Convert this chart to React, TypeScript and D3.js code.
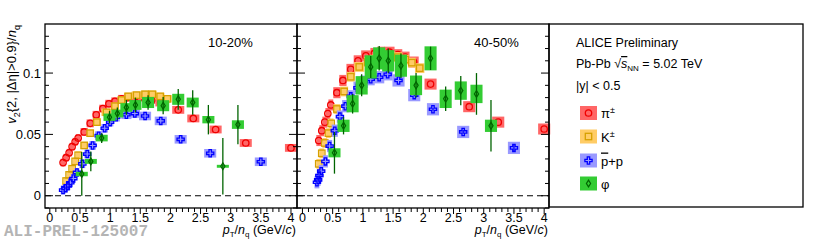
import React, { useEffect, useRef } from "react";
import * as d3 from "d3";

// ---- 10-20% ----
const piX_1020 = [0.22, 0.27, 0.32, 0.37, 0.42, 0.47, 0.57, 0.67, 0.77, 0.88, 0.98, 1.08, 1.19, 1.29, 1.39, 1.49, 1.59, 1.69, 1.84, 2.13, 2.38, 2.75, 3.25, 4.0];
const piV_1020 = [0.027, 0.031, 0.035, 0.04, 0.044, 0.047, 0.052, 0.059, 0.066, 0.071, 0.075, 0.077, 0.079, 0.08, 0.08, 0.08, 0.079, 0.078, 0.076, 0.07, 0.063, 0.054, 0.043, 0.039];
const kX_1020 = [0.27, 0.32, 0.37, 0.42, 0.47, 0.57, 0.67, 0.78, 0.94, 1.08, 1.19, 1.3, 1.44, 1.58, 1.7, 1.83, 1.95];
const kV_1020 = [0.012, 0.017, 0.022, 0.028, 0.033, 0.041, 0.051, 0.06, 0.068, 0.073, 0.078, 0.081, 0.082, 0.0827, 0.0827, 0.081, 0.079];
const pX_1020 = [0.22, 0.26, 0.3, 0.34, 0.39, 0.45, 0.54, 0.62, 0.71, 0.81, 0.91, 1.0, 1.1, 1.27, 1.41, 1.58, 1.84, 2.17, 2.66, 3.5];
const pV_1020 = [0.0046, 0.006, 0.008, 0.0106, 0.014, 0.019, 0.026, 0.034, 0.041, 0.049, 0.055, 0.06, 0.064, 0.066, 0.067, 0.065, 0.061, 0.046, 0.0346, 0.0277];
const phiX_1020 = [0.53, 0.68, 0.86, 0.99, 1.12, 1.27, 1.42, 1.63, 1.88, 2.13, 2.37, 2.63, 2.87, 3.12];
const phiV_1020 = [0.0177, 0.028, 0.047, 0.064, 0.067, 0.072, 0.074, 0.076, 0.0734, 0.0786, 0.076, 0.062, 0.024, 0.058];
const phiStat_1020 = [0.018, 0.008, 0.004, 0.005, 0.005, 0.006, 0.006, 0.006, 0.007, 0.0085, 0.01, 0.012, 0.023, 0.016];
const phiSys_1020 = [0.0018, 0.002, 0.0027, 0.003, 0.0032, 0.0035, 0.004, 0.0045, 0.0045, 0.0045, 0.004, 0.003, 0.0012, 0.0035];

// ---- 40-50% ----
const piX_4050 = [0.27, 0.32, 0.37, 0.42, 0.47, 0.57, 0.67, 0.8, 0.92, 1.05, 1.19, 1.3, 1.44, 1.58, 1.7, 1.84, 2.12, 2.76, 3.24, 4.0];
const piV_4050 = [0.045, 0.053, 0.06, 0.067, 0.074, 0.084, 0.094, 0.103, 0.11, 0.114, 0.116, 0.117, 0.117, 0.115, 0.113, 0.109, 0.091, 0.0726, 0.06, 0.0544];
const kX_4050 = [0.27, 0.32, 0.37, 0.43, 0.475, 0.57, 0.69, 0.8, 0.94, 1.08, 1.19, 1.3, 1.44, 1.58, 1.7, 1.81, 1.94];
const kV_4050 = [0.026, 0.0346, 0.043, 0.051, 0.059, 0.0707, 0.085, 0.097, 0.105, 0.109, 0.111, 0.113, 0.114, 0.113, 0.111, 0.1085, 0.104];
const pX_4050 = [0.24, 0.26, 0.28, 0.31, 0.38, 0.45, 0.535, 0.62, 0.71, 0.8, 0.91, 1.02, 1.13, 1.27, 1.41, 1.59, 1.85, 2.16, 2.66, 3.5];
const pV_4050 = [0.011, 0.013, 0.0165, 0.02, 0.028, 0.0405, 0.053, 0.0645, 0.073, 0.081, 0.088, 0.093, 0.095, 0.0966, 0.099, 0.094, 0.082, 0.0705, 0.052, 0.039];
const pStat_4050 = [0, 0, 0, 0, 0, 0, 0, 0, 0, 0, 0, 0, 0, 0, 0, 0, 0.001, 0.001, 0.0015, 0.003];
const phiX_4050 = [0.53, 0.68, 0.83, 0.98, 1.13, 1.27, 1.42, 1.63, 1.88, 2.12, 2.37, 2.62, 2.88, 3.12];
const phiV_4050 = [0.035, 0.057, 0.075, 0.09, 0.105, 0.112, 0.11, 0.106, 0.09, 0.112, 0.079, 0.0857, 0.083, 0.057];
const phiStat_4050 = [0.017, 0.007, 0.008, 0.009, 0.009, 0.01, 0.01, 0.01, 0.01, 0.0095, 0.01, 0.012, 0.017, 0.021];
const phiSys_4050 = [0.0037, 0.005, 0.007, 0.0075, 0.0095, 0.009, 0.0087, 0.009, 0.008, 0.0098, 0.0075, 0.0075, 0.0075, 0.005];

// constant systematic uncertainty per species and centrality
const sys1020 = { pi: 0.0032, k: 0.003, p: 0.0035 };
const sys4050 = { pi: 0.0045, k: 0.004, p: 0.005 };

const centralities = ["10-20%", "40-50%"];
const xTicks = [0, 0.5, 1, 1.5, 2, 2.5, 3, 3.5, 4];
const yTicks = [0, 0.05, 0.1];
const legendLabels = ["π", "K", "p", "φ"];

const species = [
  { key: "pi", box: "#ff6666", line: "#f00000", marker: "circle" },
  { key: "k", box: "#ffcc66", line: "#d6a000", marker: "square" },
  { key: "p", box: "#9999ff", line: "#0000ff", marker: "cross" },
  { key: "phi", box: "#33cc33", line: "#006400", marker: "diamond" },
];

const FONT = "'Liberation Sans', Arial, Helvetica, sans-serif";

const crossPath = (s: number, a: number) =>
  `M${-a},${-s}H${a}V${-a}H${s}V${a}H${a}V${s}H${-a}V${a}H${-s}V${-a}H${-a}Z`;

const drawMarker = (g: any, type: string, color: string, cx: number, cy: number) => {
  if (type === "circle") {
    g.append("circle").attr("cx", cx).attr("cy", cy).attr("r", 3.2)
      .attr("fill", "none").attr("stroke", color).attr("stroke-width", 1.3);
  } else if (type === "square") {
    g.append("rect").attr("x", cx - 3.2).attr("y", cy - 3.2).attr("width", 6.4).attr("height", 6.4)
      .attr("fill", "none").attr("stroke", color).attr("stroke-width", 1.3);
  } else if (type === "cross") {
    g.append("path").attr("d", crossPath(3.6, 1.2)).attr("transform", `translate(${cx},${cy})`)
      .attr("fill", "none").attr("stroke", color).attr("stroke-width", 1.3);
  } else {
    g.append("path").attr("d", "M0,-3.4L2.1,0L0,3.4L-2.1,0Z").attr("transform", `translate(${cx},${cy})`)
      .attr("fill", "none").attr("stroke", color).attr("stroke-width", 1.2);
  }
};

const App = () => {
  const ref = useRef<SVGSVGElement | null>(null);

  useEffect(() => {
    const svg = d3.select(ref.current);
    svg.selectAll("*").remove();

    const top = 24;
    const bottom = 208;
    const panels = [
      { x0: 45, x1: 297, domain: [-0.08, 4.1] },
      { x0: 297, x1: 549, domain: [-0.09, 4.08] },
    ];
    const y = d3.scaleLinear().domain([-0.01, 0.14]).range([bottom, top]);

    const data = [
      {
        pi: { x: piX_1020, v: piV_1020, sys: piX_1020.map(() => sys1020.pi) },
        k: { x: kX_1020, v: kV_1020, sys: kX_1020.map(() => sys1020.k) },
        p: { x: pX_1020, v: pV_1020, sys: pX_1020.map(() => sys1020.p) },
        phi: { x: phiX_1020, v: phiV_1020, sys: phiSys_1020, stat: phiStat_1020 },
      },
      {
        pi: { x: piX_4050, v: piV_4050, sys: piX_4050.map(() => sys4050.pi) },
        k: { x: kX_4050, v: kV_4050, sys: kX_4050.map(() => sys4050.k) },
        p: { x: pX_4050, v: pV_4050, sys: pX_4050.map(() => sys4050.p), stat: pStat_4050 },
        phi: { x: phiX_4050, v: phiV_4050, sys: phiSys_4050, stat: phiStat_4050 },
      },
    ];

    panels.forEach((pan, pi) => {
      const x = d3.scaleLinear().domain(pan.domain).range([pan.x0, pan.x1]);
      const g = svg.append("g");

      // zero line
      g.append("line").attr("x1", pan.x0).attr("x2", pan.x1).attr("y1", y(0)).attr("y2", y(0))
        .attr("stroke", "#000").attr("stroke-width", 1.2).attr("stroke-dasharray", "6,4");

      species.forEach((sp) => {
        const s = (data[pi] as any)[sp.key];
        const n = s.x.length;
        // systematic boxes, half-width from the bin spacing
        s.x.forEach((xv: number, i: number) => {
          const gapL = i > 0 ? xv - s.x[i - 1] : Infinity;
          const gapR = i < n - 1 ? s.x[i + 1] - xv : Infinity;
          let hw = Math.min(gapL, gapR) * 0.6;
          if (sp.key === "phi") hw = 0.1;
          hw = Math.max(0.04, Math.min(0.1, hw));
          const v = s.v[i];
          const e = s.sys[i];
          g.append("rect")
            .attr("x", x(xv - hw)).attr("width", x(xv + hw) - x(xv - hw))
            .attr("y", y(v + e)).attr("height", y(v - e) - y(v + e))
            .attr("fill", sp.box);
        });
        // stat errors
        if (s.stat) {
          s.x.forEach((xv: number, i: number) => {
            if (!s.stat[i]) return;
            g.append("line").attr("x1", x(xv)).attr("x2", x(xv))
              .attr("y1", y(Math.max(0, s.v[i] - s.stat[i]))).attr("y2", y(s.v[i] + s.stat[i]))
              .attr("stroke", sp.line).attr("stroke-width", 1.3);
          });
        }
        s.x.forEach((xv: number, i: number) => drawMarker(g, sp.marker, sp.line, x(xv), y(s.v[i])));
      });

      // ticks
      const minorX = d3.range(0, 41).map((d) => d / 10);
      minorX.forEach((t) => {
        const major = Math.abs(t * 2 - Math.round(t * 2)) < 1e-6;
        g.append("line").attr("x1", x(t)).attr("x2", x(t))
          .attr("y1", bottom).attr("y2", bottom + (major ? 6 : 4))
          .attr("stroke", "#000").attr("stroke-width", 1);
      });
      xTicks.forEach((t) => {
        g.append("text").attr("x", x(t)).attr("y", 222)
          .attr("text-anchor", "middle").attr("font-family", FONT).attr("font-size", 12.5)
          .text(String(t));
      });
      const minorY = d3.range(-1, 14).map((d) => d / 100);
      minorY.forEach((t) => {
        const major = Math.abs(t * 20 - Math.round(t * 20)) < 1e-6;
        const len = major ? 8 : 4;
        g.append("line").attr("x1", pan.x0).attr("x2", pan.x0 + len).attr("y1", y(t)).attr("y2", y(t))
          .attr("stroke", "#000").attr("stroke-width", 1);
        g.append("line").attr("x1", pan.x1).attr("x2", pan.x1 - len).attr("y1", y(t)).attr("y2", y(t))
          .attr("stroke", "#000").attr("stroke-width", 1);
      });

      // frame
      g.append("rect").attr("x", pan.x0).attr("y", top).attr("width", pan.x1 - pan.x0)
        .attr("height", bottom - top).attr("fill", "none").attr("stroke", "#000").attr("stroke-width", 1.3);

      g.append("text").attr("x", pi === 0 ? 208 : 474).attr("y", 47)
        .attr("font-family", FONT).attr("font-size", 13).text(centralities[pi]);

      // x title
      const xt = g.append("text").attr("x", pan.x1 - 1).attr("y", 234)
        .attr("text-anchor", "end").attr("font-family", FONT).attr("font-size", 12.5);
      xt.append("tspan").attr("font-style", "italic").text("p");
      xt.append("tspan").attr("font-size", 8).attr("dy", 2.5).text("T");
      xt.append("tspan").attr("dy", -2.5).text("/");
      xt.append("tspan").attr("font-style", "italic").text("n");
      xt.append("tspan").attr("font-size", 8).attr("dy", 2.5).text("q");
      xt.append("tspan").attr("dy", -2.5).text(" (GeV/");
      xt.append("tspan").attr("font-style", "italic").text("c");
      xt.append("tspan").text(")");
    });

    // y tick labels
    yTicks.forEach((t) => {
      svg.append("text").attr("x", 41).attr("y", y(t)).attr("dy", "0.35em")
        .attr("text-anchor", "end").attr("font-family", FONT).attr("font-size", 13)
        .text(String(t));
    });

    // y title
    const yt = svg.append("text").attr("transform", "translate(16,25) rotate(-90)")
      .attr("text-anchor", "end").attr("font-family", FONT).attr("font-size", 13);
    yt.append("tspan").attr("font-style", "italic").text("v");
    yt.append("tspan").attr("font-size", 9).attr("dy", 4).text("2");
    yt.append("tspan").attr("dy", -4).text("{2, |Δη|>0.9}/");
    yt.append("tspan").attr("font-style", "italic").text("n");
    yt.append("tspan").attr("font-size", 9).attr("dy", 4).text("q");

    // legend box
    svg.append("rect").attr("x", 549).attr("y", 24).attr("width", 254).attr("height", 183)
      .attr("fill", "none").attr("stroke", "#000").attr("stroke-width", 1.3);
    svg.append("text").attr("x", 576).attr("y", 47).attr("font-family", FONT).attr("font-size", 12.5)
      .text("ALICE Preliminary");
    const en = svg.append("text").attr("x", 576).attr("y", 68).attr("font-family", FONT).attr("font-size", 12.5);
    en.append("tspan").text("Pb-Pb √");
    en.append("tspan").attr("font-style", "italic").attr("text-decoration", "overline").text("s");
    en.append("tspan").attr("font-size", 8).attr("dy", 3).text("NN");
    en.append("tspan").attr("dy", -3).text(" = 5.02 TeV");
    svg.append("text").attr("x", 576).attr("y", 90).attr("font-family", FONT).attr("font-size", 12.5)
      .text("|y| < 0.5");

    const legY = [113, 136.5, 160.5, 183.5];
    species.forEach((sp, i) => {
      svg.append("rect").attr("x", 580).attr("y", legY[i] - 7).attr("width", 17).attr("height", 14)
        .attr("fill", sp.box);
      drawMarker(svg, sp.marker, sp.line, 588.5, legY[i]);
      const t = svg.append("text").attr("x", 601).attr("y", legY[i] + 5)
        .attr("font-family", FONT).attr("font-size", 13);
      if (i === 2) {
        t.append("tspan").attr("text-decoration", "overline").text("p");
        t.append("tspan").text("+p");
      } else {
        t.append("tspan").text(legendLabels[i]);
        if (i < 2) t.append("tspan").attr("font-size", 9).attr("dy", -5).text("±");
      }
    });

    // preliminary tag
    svg.append("text").attr("x", 4).attr("y", 236)
      .attr("font-family", "'Liberation Mono', 'DejaVu Sans Mono', monospace").attr("font-weight", "bold")
      .attr("font-size", 16).attr("fill", "#b4b4b4").text("ALI-PREL-125007");
  }, []);

  return (
    <svg ref={ref} width={830} height={240}
      style={{ position: "absolute", left: 0, top: 0, background: "#fff" }} />
  );
};

export default App;
